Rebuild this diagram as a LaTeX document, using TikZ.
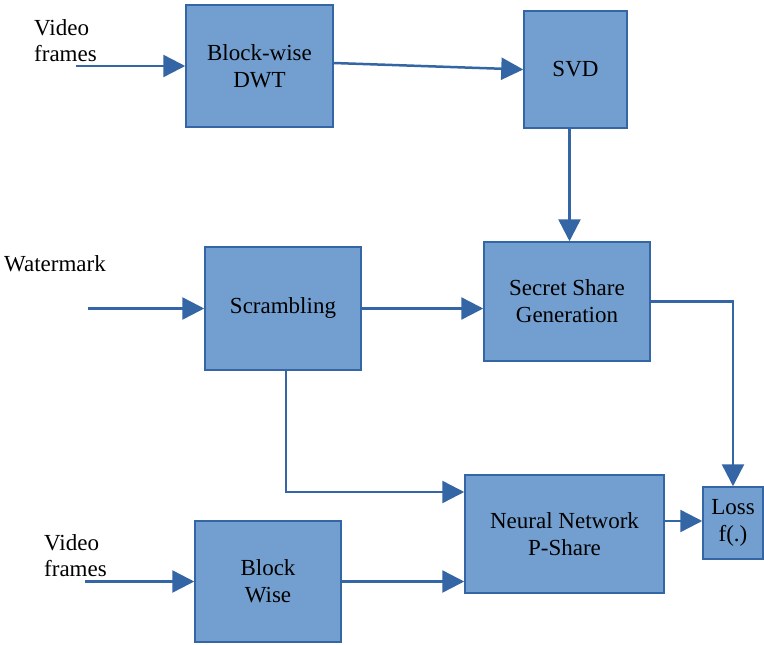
\documentclass[tikz,border=0pt]{standalone}
\usepackage{fontspec}
\setmainfont{Liberation Serif}
\usetikzlibrary{arrows.meta,calc}
\definecolor{boxfill}{HTML}{729FCF}
\definecolor{boxline}{HTML}{3465A4}
\begin{document}
\begin{tikzpicture}[x=1pt,y=-1pt,
  box/.style={draw=boxline,fill=boxfill,line width=1.5pt,inner sep=0pt,align=center,
     font=\fontsize{23}{27}\selectfont},
  arr/.style={draw=boxline,line width=2.5pt,
     -{Triangle[length=22pt,width=22pt]}},
  lbl/.style={inner sep=0pt,align=left,font=\fontsize{23}{26}\selectfont}]
\useasboundingbox (0,0) rectangle (764,645);
% boxes
\node[box,minimum width=147pt,minimum height=122pt] (dwt) at (259.5,66) {Block-wise\\DWT};
\node[box,minimum width=103pt,minimum height=117pt] (svd) at (575.5,69.5) {SVD};
\node[box,minimum width=156pt,minimum height=123pt] (scr) at (283,308.5) {\raisebox{-3pt}{Scrambling}};
\node[box,minimum width=166pt,minimum height=119pt] (ssg) at (567,301.5) {Secret Share\\Generation};
\node[box,minimum width=199pt,minimum height=118pt] (nn) at (564.5,534) {Neural Network\\P-Share};
\node[box,minimum width=146pt,minimum height=121pt] (bw) at (268,581.5) {Block\\Wise};
\node[box,minimum width=60pt,minimum height=72pt] (loss) at (733,523) {Loss\\f(.)};
% labels
\node[lbl,anchor=north west] (vf1) at (34,19) {Video\\frames};
\node[lbl,anchor=north west] (wm) at (4,255) {Watermark};
\node[lbl,anchor=north west] (vf2) at (44,534) {Video\\frames};
% free ends
\coordinate (in1) at (76,66);
\coordinate (in2) at (88,308.5);
\coordinate (in3) at (85,581.5);
% connectors
\draw[arr] (in1) -- (in1 -| dwt.west);
\draw[arr] ([yshift=3pt]dwt.east) -- (svd.west);
\draw[arr] ([xshift=-6pt]svd.south) -- ([xshift=-6pt]svd.south |- ssg.north);
\draw[arr] (in2) -- (in2 -| scr.west);
\draw[arr] (scr.east) -- (scr.east -| ssg.west);
\draw[arr] (ssg.east) -| (loss.north);
\draw[arr] ([xshift=3pt]scr.south) |- ([yshift=42pt]nn.west);
\draw[arr] (in3) -- (in3 -| bw.west);
\draw[arr] (bw.east) -- (bw.east -| nn.west);
\draw[arr] ([yshift=13pt]nn.east) -- ([yshift=13pt]nn.east -| loss.west);
\end{tikzpicture}
\end{document}
